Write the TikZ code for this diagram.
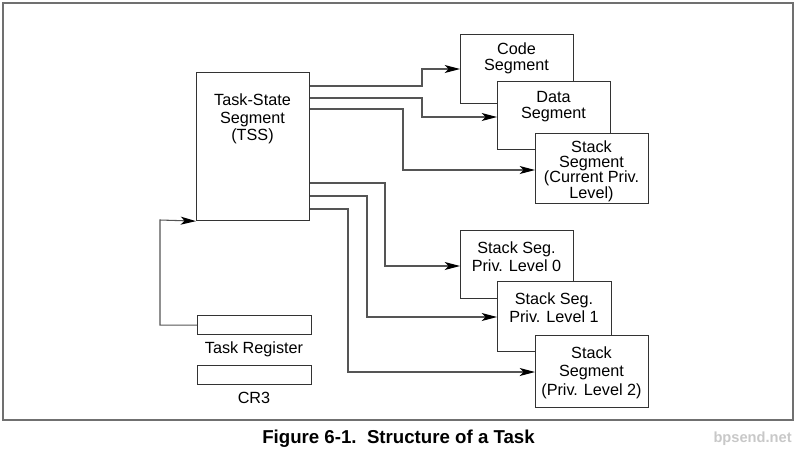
\documentclass[tikz,border=0pt]{standalone}
\usepackage{fontspec}
\setmainfont{Liberation Sans}
\usetikzlibrary{arrows.meta}
\definecolor{boxline}{HTML}{333333}
\definecolor{conline}{HTML}{555555}
\definecolor{frameline}{HTML}{707070}
\definecolor{wmark}{HTML}{C8C8C8}
\begin{document}
\begin{tikzpicture}[x=0.75pt,y=-0.75pt,
  segbox/.style={draw=boxline,line width=0.85pt,fill=white,rectangle,inner sep=0pt,anchor=north west,minimum width=84.75pt},
  lbl/.style={align=center,inner sep=0pt,anchor=north,text=black},
  arr/.style={draw=conline,line width=0.8pt,-{Stealth[length=11.5pt,width=6pt,inset=3pt,color=black]}},
  conn/.style={draw=conline,line width=0.8pt}]
\useasboundingbox (0,0) rectangle (796,455);
\draw[frameline,line width=1.6pt] (3,3) rectangle (793,420);

% TSS and registers
\node[segbox,minimum height=111pt] (tss) at (196,72) {};
\node[lbl,font=\fontsize{12.15pt}{13.4pt}\selectfont] (tsstext) at (252.5,93.2) {Task-State\\Segment\\(TSS)};
\node[segbox,minimum width=85.5pt,minimum height=14.25pt] (treg) at (197,315) {};
\node[lbl,font=\fontsize{12.15pt}{13.4pt}\selectfont] (tregtext) at (254,341) {Task Register};
\node[segbox,minimum width=85.5pt,minimum height=14.25pt] (cr3) at (197,365) {};
\node[lbl,font=\fontsize{12.15pt}{13.4pt}\selectfont] (cr3text) at (254,391.5) {CR3};

% upper segments
\node[segbox,minimum height=51.75pt] (code) at (460,34) {};
\node[lbl,font=\fontsize{12.15pt}{12pt}\selectfont] (codetext) at (516.5,42.5) {Code\\Segment};
\node[segbox,minimum height=51pt] (data) at (497,81) {};
\node[lbl,font=\fontsize{12.15pt}{12pt}\selectfont] (datatext) at (553.5,91.5) {Data\\Segment};
\node[segbox,minimum height=52.5pt] (stack) at (535,133) {};
\node[lbl,font=\fontsize{12.15pt}{11.6pt}\selectfont] (stacktext) at (591.5,140) {Stack\\Segment\\(Current Priv.\\Level)};

% lower segments
\node[segbox,minimum height=51pt] (seg0) at (460,230) {};
\node[lbl,font=\fontsize{12.15pt}{13.5pt}\selectfont] (seg0text) at (516.5,241) {Stack Seg.\\Priv. Level 0};
\node[segbox,minimum width=85.5pt,minimum height=52.5pt] (seg1) at (497,281) {};
\node[lbl,font=\fontsize{12.15pt}{13.5pt}\selectfont] (seg1text) at (554,292.3) {Stack Seg.\\Priv. Level 1};
\node[segbox,minimum height=54pt] (seg2) at (535,335) {};
\node[lbl,font=\fontsize{12.15pt}{13.9pt}\selectfont] (seg2text) at (591.5,346.3) {Stack\\Segment\\(Priv. Level 2)};

% connectors
\draw[arr] (tss.east |- 0,86) -| (422,69) -- (code.west |- 0,69);
\draw[arr] (tss.east |- 0,98) -| (422,117) -- (data.west |- 0,117);
\draw[arr] (tss.east |- 0,109) -| (403,170) -- (stack.west |- 0,170);
\draw[arr] (tss.east |- 0,183) -| (385,266) -- (seg0.west |- 0,266);
\draw[arr] (tss.east |- 0,196) -| (367,317) -- (seg1.west |- 0,317);
\draw[arr] (tss.east |- 0,209) -| (348,372) -- (seg2.west |- 0,372);
\draw[arr] (treg.west) -| (160,220) -- (tss.south west);

% caption
\node[font=\fontsize{14pt}{16pt}\selectfont\bfseries,inner sep=0pt] (caption) at (398.5,439) {Figure 6-1.\ \ Structure of a Task};
\node[font=\fontsize{11pt}{13pt}\selectfont\bfseries,text=wmark,inner sep=0pt,anchor=east] (wm) at (792,439) {bpsend.net};
\end{tikzpicture}
\end{document}
